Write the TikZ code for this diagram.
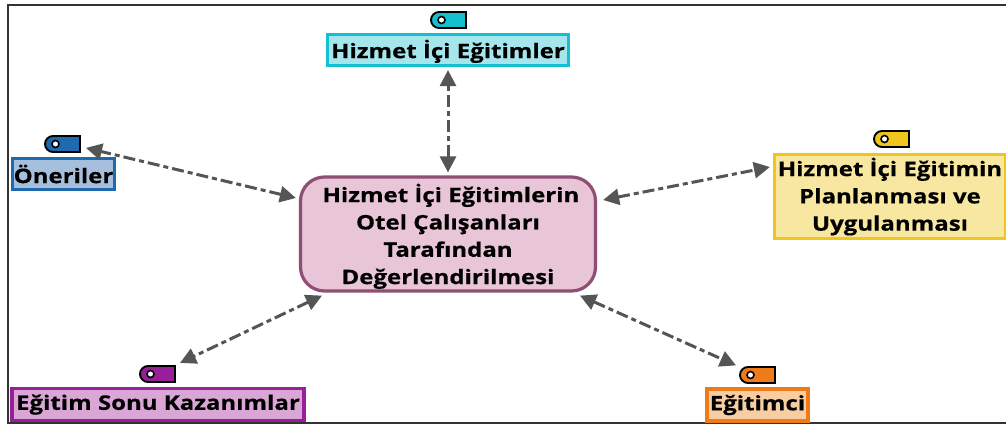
\documentclass[tikz,border=0pt]{standalone}
\usepackage{fontspec}
\setmainfont{Open Sans}[BoldFont=* Bold,BoldFeatures={FakeStretch=1.2,FakeBold=0.5}]
\usetikzlibrary{arrows.meta,calc}
\definecolor{cyanF}{HTML}{A5E6EC}\definecolor{cyanD}{HTML}{14BFD0}
\definecolor{blueF}{HTML}{A6BFDD}\definecolor{blueD}{HTML}{1F69AE}
\definecolor{yelF}{HTML}{F8E7A0}\definecolor{yelD}{HTML}{F0C51E}
\definecolor{purF}{HTML}{D9A6D6}\definecolor{purD}{HTML}{97209A}
\definecolor{oraF}{HTML}{F9CDA2}\definecolor{oraD}{HTML}{EE7B1A}
\definecolor{mainF}{HTML}{E9C5D8}\definecolor{mainD}{HTML}{8F4E74}
\definecolor{linkC}{HTML}{555555}
\tikzset{
  box/.style 2 args={draw=#2,fill=#1,line width=3.2pt,inner sep=0pt,align=center,font=\fontsize{20}{27.3}\selectfont\bfseries,text=black},
  link/.style={draw=linkC,line width=3pt,dash pattern=on 12pt off 4pt on 5pt off 4pt,{Triangle[length=16pt,width=16pt]}-{Triangle[length=16pt,width=16pt]}},
  frameline/.style={draw=black!80,line width=1.8pt},
}
\newcommand{\tagmark}[3]{% left x, top y, colour
  \draw[black,line width=1.9pt,fill=#3]
    (#1+35,#2) -- (#1+35,#2+16) -- (#1+8,#2+16)
    .. controls (#1+3.6,#2+16) and (#1,#2+12.4) .. (#1,#2+8)
    .. controls (#1,#2+3.6) and (#1+3.6,#2) .. (#1+8,#2) -- cycle;
  \fill[white,draw=black,line width=1.6pt] (#1+10.5,#2+8) circle (3.5pt);
}
\begin{document}
\begin{tikzpicture}[x=1pt,y=-1pt]
\useasboundingbox (0,0) rectangle (1006,426);
\fill[white] (0,0) rectangle (1006,426);
\draw[frameline] (1006,5) -- (8,5) -- (8,423) -- (1006,423);

\node[box={mainF}{mainD},rounded corners=24pt,minimum width=295pt,minimum height=114pt] (main) at (448,234)
  {\rule{0pt}{23pt}\hspace{6pt}Hizmet İçi Eğitimlerin\\Otel Çalışanları\\Tarafından\\Değerlendirilmesi};
\node[box={cyanF}{cyanD},minimum width=241pt,minimum height=31pt] (egitimler) at (448,50) {\rule{0pt}{21pt}Hizmet İçi Eğitimler};
\node[box={blueF}{blueD},minimum width=102pt,minimum height=31pt] (oneriler) at (63.5,174) {Öneriler};
\node[box={yelF}{yelD},minimum width=231pt,minimum height=84pt] (planlama) at (890,196.5) {Hizmet İçi Eğitimin\\Planlanması ve\\Uygulanması};
\node[box={purF}{purD},minimum width=292pt,minimum height=32pt] (kazanim) at (158,404.5) {Eğitim Sonu Kazanımlar};
\node[box={oraF}{oraD},minimum width=101pt,minimum height=32pt] (egitimci) at (757.5,405) {Eğitimci};

\tagmark{431}{12}{cyanD}
\tagmark{45}{136}{blueD}
\tagmark{874}{131}{yelD}
\tagmark{140}{366}{purD}
\tagmark{740}{367}{oraD}

\draw[link] ([yshift=3pt]main.north) -- ([yshift=-3pt]egitimler.south);
\draw[link] ([xshift=-3pt,yshift=36pt]main.west) -- ([xshift=22.5pt,yshift=9pt]oneriler.north);
\draw[link] ([xshift=6pt,yshift=34pt]main.east) -- ([xshift=-3pt,yshift=29.5pt]planlama.west);
\draw[link] ([xshift=-126pt,yshift=-3pt]main.south) -- ([xshift=22pt,yshift=24pt]kazanim.north);
\draw[link] ([xshift=132pt,yshift=-3pt]main.south) -- ([xshift=-21.5pt,yshift=22pt]egitimci.north);
\end{tikzpicture}
\end{document}
